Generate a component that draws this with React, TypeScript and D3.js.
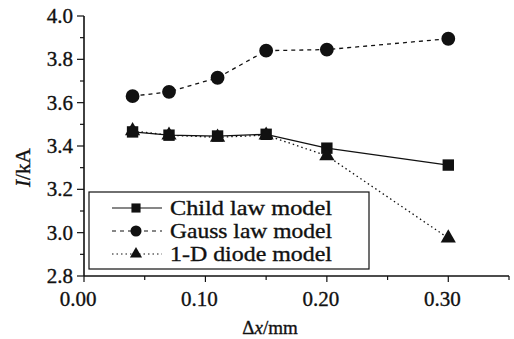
import React from "react";
import * as d3 from "d3";

const xValues = [0.04, 0.07, 0.11, 0.15, 0.2, 0.3];
const childLaw = [3.465, 3.45, 3.446, 3.454, 3.39, 3.312];
const gaussLaw = [3.63, 3.65, 3.715, 3.84, 3.845, 3.895];
const diode = [3.47, 3.45, 3.44, 3.45, 3.355, 2.975];
const xTicks = [0, 0.1, 0.2, 0.3];
const yTicks = [2.8, 3.0, 3.2, 3.4, 3.6, 3.8, 4.0];
const seriesNames = ["Child law model", "Gauss law model", "1-D diode model"];

const W = 514;
const H = 339;
const FONT = "Liberation Serif, Times New Roman, serif";

export default function App() {
  const x = d3.scaleLinear().domain([0, 0.35]).range([84, 509]);
  const y = d3.scaleLinear().domain([2.8, 4.0]).range([276, 16]);
  const line = d3
    .line<[number, number]>()
    .x((d) => x(d[0]))
    .y((d) => y(d[1]));
  const series = [
    { name: seriesNames[0], vals: childLaw, dash: "none", marker: "square" },
    { name: seriesNames[1], vals: gaussLaw, dash: "4,4", marker: "circle" },
    { name: seriesNames[2], vals: diode, dash: "1.5,3", marker: "triangle" },
  ];
  const sym = {
    square: d3.symbol(d3.symbolSquare, 130)(),
    circle: d3.symbol(d3.symbolCircle, 150)(),
    triangle: d3.symbol(d3.symbolTriangle, 100)(),
  } as Record<string, string>;

  const xMinor = d3.range(0, 0.3501, 0.05);
  const yMinor = d3.range(2.8, 4.0001, 0.1);
  const ink = "#111";
  const txt = { fill: ink, stroke: ink, strokeWidth: 0.35 };

  return (
    <svg
      width={W}
      height={H}
      style={{ position: "absolute", left: 0, top: 0, background: "#fff", fontFamily: FONT }}
    >
      <rect width={W} height={H} fill="#fff" />
      {/* axes */}
      <line x1={x(0)} x2={x(0)} y1={y(4.0)} y2={y(2.8)} stroke={ink} strokeWidth={1.6} />
      <line x1={x(0)} x2={x(0.35)} y1={y(2.8)} y2={y(2.8)} stroke={ink} strokeWidth={1.6} />
      {yMinor.map((v, i) => (
        <line key={"ym" + i} x1={x(0) - (i % 2 === 0 ? 7 : 4)} x2={x(0)} y1={y(v)} y2={y(v)} stroke={ink} strokeWidth={1.2} />
      ))}
      {xMinor.map((v, i) => (
        <line key={"xm" + i} x1={x(v)} x2={x(v)} y1={y(2.8)} y2={y(2.8) + (i % 2 === 0 ? 6 : 4)} stroke={ink} strokeWidth={1.2} />
      ))}
      {yTicks.map((v) => (
        <text key={"yt" + v} x={x(0) - 11} y={y(v) + 7} textAnchor="end" fontSize={21} {...txt}>
          {v.toFixed(1)}
        </text>
      ))}
      {xTicks.map((v) => (
        <text key={"xt" + v} x={x(v) - 6} y={306} textAnchor="middle" fontSize={21} {...txt}>
          {v.toFixed(2)}
        </text>
      ))}
      <text x={270} y={334} textAnchor="middle" fontSize={19} {...txt}>
        Δ<tspan fontStyle="italic">x</tspan>/mm
      </text>
      <text transform={`translate(30,${y(3.3)}) rotate(-90)`} textAnchor="middle" fontSize={21} {...txt}>
        <tspan fontStyle="italic">I</tspan>/kA
      </text>

      {/* series */}
      {series.map((s) => (
        <g key={s.name}>
          <path
            d={line(xValues.map((v, i) => [v, s.vals[i]]) as [number, number][]) || ""}
            fill="none"
            stroke={ink}
            strokeWidth={1.3}
            strokeDasharray={s.dash}
          />
          {xValues.map((v, i) => (
            <path key={i} d={sym[s.marker]} transform={`translate(${x(v)},${y(s.vals[i])})`} fill={ink} />
          ))}
        </g>
      ))}

      {/* legend */}
      <rect x={89} y={192} width={280} height={77} fill="#fff" stroke={ink} strokeWidth={1.2} />
      {series.map((s, i) => {
        const cy = 208 + i * 23;
        return (
          <g key={"lg" + i}>
            <line x1={112} x2={162} y1={cy} y2={cy} stroke={ink} strokeWidth={1.2} strokeDasharray={s.dash} />
            <path d={sym[s.marker]} transform={`translate(136,${cy}) scale(0.8)`} fill={ink} />
            <text x={170} y={cy + 7} fontSize={21} textLength={162} lengthAdjust="spacingAndGlyphs" {...txt}>
              {s.name}
            </text>
          </g>
        );
      })}
    </svg>
  );
}
